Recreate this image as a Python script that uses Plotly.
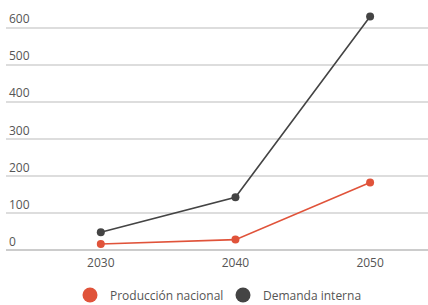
import plotly.graph_objects as go

years = [2030, 2040, 2050]
produccion = [16, 28, 182]
demanda = [48, 142, 630]
y_ticks = [0, 100, 200, 300, 400, 500, 600]

RED = "#e0533a"
DARK = "#444444"
FONT = "Open Sans"
TXT = "#555555"

fig = go.Figure()
fig.add_trace(go.Scatter(x=years, y=produccion, mode="lines+markers", name="Producción nacional",
                         line=dict(color=RED, width=1.6), marker=dict(color=RED, size=8),
                         showlegend=False))
fig.add_trace(go.Scatter(x=years, y=demanda, mode="lines+markers", name="Demanda interna",
                         line=dict(color=DARK, width=1.6), marker=dict(color=DARK, size=8),
                         showlegend=False))
# legend entries (circle only)
fig.add_trace(go.Scatter(x=[None], y=[None], mode="markers", name="Producción nacional",
                         marker=dict(color=RED, size=15), legend="legend"))
fig.add_trace(go.Scatter(x=[None], y=[None], mode="markers", name="Demanda interna",
                         marker=dict(color=DARK, size=15), legend="legend2"))

leg_common = dict(orientation="h", xanchor="left", xref="container", yref="container",
                  yanchor="middle", y=1 - 295 / 305, bgcolor="rgba(0,0,0,0)",
                  font=dict(size=12, color=TXT), itemsizing="trace")

fig.update_layout(
    width=428, height=305,
    margin=dict(l=6, r=0, t=9, b=55, pad=0, autoexpand=False),
    paper_bgcolor="white", plot_bgcolor="white",
    font=dict(family=FONT, size=12, color=TXT),
    showlegend=True,
    legend=dict(leg_common, x=70 / 428),
    legend2=dict(leg_common, x=223 / 428),
    xaxis=dict(range=[2022.96, 2054.3], tickvals=years, ticktext=[str(y) for y in years],
               showgrid=False, zeroline=False, showline=False, ticks="", automargin=False,
               ticklabelstandoff=4, tickfont=dict(size=12, color=TXT)),
    yaxis=dict(range=[0, 650], tickvals=y_ticks, ticklabelposition="inside top",
               showgrid=True, gridcolor="#dddddd", gridwidth=1.5, zeroline=True,
               zerolinecolor="#cccccc", zerolinewidth=2, showline=False, ticks="",
               automargin=False, tickfont=dict(size=12, color=TXT)),
)

fig.write_html("out.html", config={"displayModeBar": False},
               post_script="document.body.style.margin='0';")
